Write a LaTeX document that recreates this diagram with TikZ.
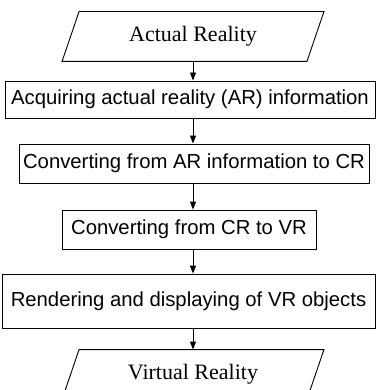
\documentclass[tikz,border=0pt]{standalone}
\usepackage{fontspec}
\setmainfont{Liberation Serif}
\setsansfont{Liberation Sans}
\usetikzlibrary{arrows.meta}
\begin{document}
\begin{tikzpicture}[x=1pt,y=-1pt,
  line width=0.9pt,
  procbox/.style={draw, rectangle, inner sep=0pt, font=\sffamily\fontsize{20.3}{24}\selectfont},
  iobox/.style={rectangle, inner sep=0pt, minimum width=244pt, minimum height=49pt, font=\rmfamily\fontsize{22}{26}\selectfont},
  flow/.style={-{Triangle[length=8pt,width=6pt]}}
]
\useasboundingbox (0,0) rectangle (376,390);
\clip (0,0) rectangle (376,390);
\node[iobox] (ar) at (193,36.5) {Actual Reality};
\draw ([xshift=8.5pt]ar.north west) -- ([xshift=8.5pt]ar.north east) -- ([xshift=-8.5pt]ar.south east) -- ([xshift=-8.5pt]ar.south west) -- cycle;
\node[procbox, minimum width=370pt, minimum height=37pt] (b1) at (190,99.5) {Acquiring actual reality (AR) information};
\node[procbox, minimum width=350pt, minimum height=39pt] (b2) at (194,163.5) {Converting from AR information to CR};
\node[procbox, minimum width=254pt, minimum height=39pt] (b3) at (189,229.5) {Converting from CR to VR};
\node[procbox, minimum width=373pt, minimum height=54pt] (b4) at (188.5,301) {Rendering and displaying of VR objects};
\node[iobox] (vr) at (193,374.5) {Virtual Reality};
\draw ([xshift=8.5pt]vr.north west) -- ([xshift=8.5pt]vr.north east) -- ([xshift=-8.5pt]vr.south east) -- ([xshift=-8.5pt]vr.south west) -- cycle;
\draw[flow] (ar.south) -- (ar.south |- b1.north);
\draw[flow] (ar.south |- b1.south) -- (ar.south |- b2.north);
\draw[flow] (ar.south |- b2.south) -- (ar.south |- b3.north);
\draw[flow] (ar.south |- b3.south) -- (ar.south |- b4.north);
\draw[flow] (ar.south |- b4.south) -- (vr.north);
\end{tikzpicture}
\end{document}
